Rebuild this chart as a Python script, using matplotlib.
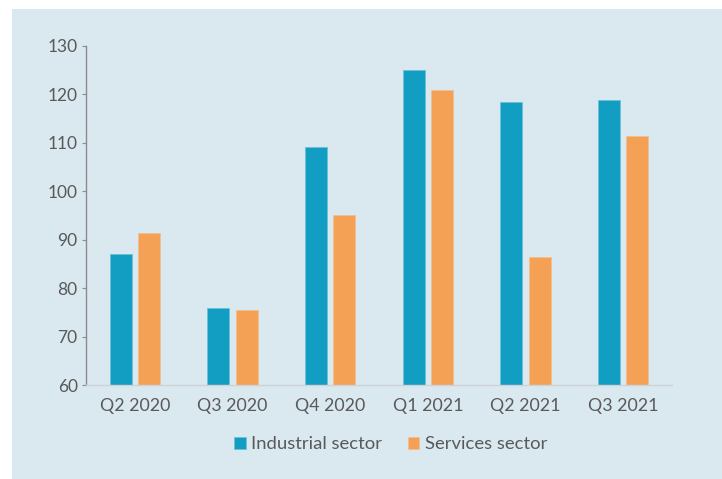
import numpy as np
import matplotlib.pyplot as plt
from matplotlib.patches import Rectangle

quarters = ["Q2 2020", "Q3 2020", "Q4 2020", "Q1 2021", "Q2 2021", "Q3 2021"]
industrial = [87.0, 75.9, 109.1, 125.0, 118.4, 118.8]
services = [91.4, 75.5, 95.1, 120.9, 86.4, 111.4]

bg = "#dae8f0"
teal = "#119ec2"
orange = "#f4a155"
txt = "#595959"

plt.rcParams['font.family'] = ['Lato', 'DejaVu Sans']

fig = plt.figure(figsize=(7.22, 4.79), dpi=100)
# light blue panel with a thin white margin at left and top
fig.patches.append(Rectangle((12 / 722, 0), 1, 1 - 9 / 479, transform=fig.transFigure,
                             facecolor=bg, edgecolor="none", zorder=-10))
ax = fig.add_axes([86 / 722, 1 - 385 / 479, 586 / 722, 339 / 479])
ax.set_facecolor("none")

x = np.arange(len(quarters))
w = 0.225
ax.bar(x - 0.145, np.array(industrial) - 60, w, bottom=60, color=teal,
       edgecolor="#6cc0d8", linewidth=0.6, label="Industrial sector")
ax.bar(x + 0.145, np.array(services) - 60, w, bottom=60, color=orange,
       edgecolor="#f3c08f", linewidth=0.6, label="Services sector")

ax.set_xlim(-0.5, len(quarters) - 0.5)
ax.set_ylim(60, 130)
ax.set_yticks(range(60, 131, 10))
ax.set_xticks(x)
ax.set_xticklabels(quarters)
ax.tick_params(axis="y", labelsize=12.5, colors=txt, length=3, width=0.8, color="#8a8a8a", pad=3)
ax.tick_params(axis="x", labelsize=12.8, colors=txt, length=0, pad=9)
for s in ["top", "right"]:
    ax.spines[s].set_visible(False)
ax.spines["left"].set_color("#8a8a8a")
ax.spines["left"].set_linewidth(1.0)
ax.spines["bottom"].set_color("#cfd3d6")
ax.spines["bottom"].set_linewidth(1.0)

ax.legend(loc="center", bbox_to_anchor=(0.52, -0.175), ncol=2, frameon=False,
          fontsize=13.3, handlelength=0.6, handleheight=0.6, handletextpad=0.3,
          columnspacing=1.4, labelcolor=txt)

fig.savefig("out.png", dpi=100)
